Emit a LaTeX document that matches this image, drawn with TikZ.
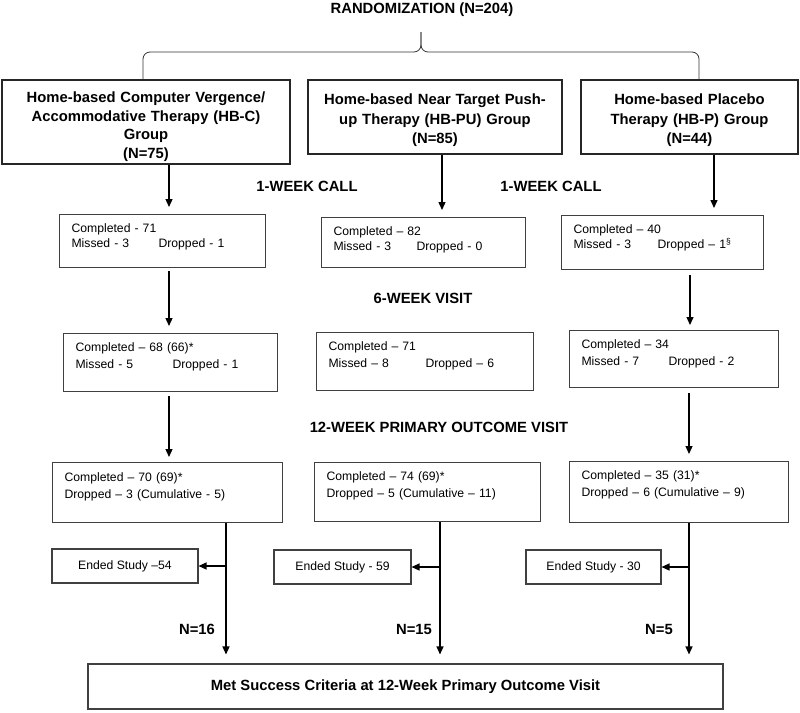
\documentclass[tikz,border=0pt]{standalone}
\usepackage{fontspec}
\setmainfont{Liberation Sans}
\usepackage{tikz}
\usetikzlibrary{positioning,arrows.meta}
\newcommand{\misdrop}[3]{\makebox[#1][l]{#2}#3}

\begin{document}
\begin{tikzpicture}[
  x=1pt,y=-1pt,
  grp/.style={draw=black!85,line width=1.5pt,align=center,inner sep=0pt,anchor=north,
    font=\fontsize{14.8}{19.5}\selectfont\bfseries},
  cell/.style={draw=black!75,line width=1.1pt,anchor=north west,align=left,
    inner xsep=12pt,inner ysep=0pt,text height=18pt,text depth=#1,
    font=\fontsize{12.2}{15}\selectfont},
  endbox/.style={draw=black!75,line width=1.1pt,align=center,inner sep=0pt,
    font=\fontsize{12.2}{15}\selectfont},
  head/.style={font=\fontsize{14.8}{18}\selectfont\bfseries},
  arr/.style={-{Triangle[length=8pt,width=7pt]},line width=1.3pt},
  brace/.style={rounded corners=7pt,line width=0.8pt,draw=black!80},
]
\useasboundingbox (0,0) rectangle (800,712);

\node[head] (title) at (422,10) {RANDOMIZATION (N=204)};

% group boxes
\node[grp,text width=288pt,text height=23pt,text depth=61pt,
  font=\fontsize{14.8}{18.5}\selectfont\bfseries] (hbc) at (146,79)
  {Home-based Computer Vergence/\\Accommodative Therapy (HB-C)\\Group\\(N=75)};
\node[grp,text width=254pt,text height=25pt,text depth=49pt] (hbpu) at (435,79)
  {Home-based Near Target Push-\\up Therapy (HB-PU) Group\\(N=85)};
\node[grp,text width=217pt,text height=25pt,text depth=49pt] (hbp) at (689.5,79)
  {Home-based Placebo\\Therapy (HB-P) Group\\(N=44)};

% 1-week call
\node[cell=35pt,text width=182pt] (c1) at (59,214)
  {Completed - 71\\\misdrop{87pt}{Missed - 3}{Dropped - 1}};
\node[cell=32pt,text width=180pt] (pu1) at (321,217)
  {Completed -- 82\\\misdrop{83pt}{Missed - 3}{Dropped - 0}};
\node[cell=36pt,text width=178pt] (p1) at (561,215)
  {Completed -- 40\\\misdrop{84pt}{Missed - 3}{Dropped -- 1\textsuperscript{§}}};

% 6-week visit
\node[cell=40pt,text width=190pt] (c2) at (63,333)
  {Completed -- 68 (66)*\\[2pt]\misdrop{97pt}{Missed - 5}{Dropped - 1}};
\node[cell=40pt,text width=193pt] (pu2) at (316,332)
  {Completed -- 71\\[2pt]\misdrop{97pt}{Missed -- 8}{Dropped -- 6}};
\node[cell=39pt,text width=185pt] (p2) at (569,330)
  {Completed -- 34\\[2pt]\misdrop{87pt}{Missed - 7}{Dropped - 2}};

% 12-week visit
\node[cell=41pt,text height=19pt,text width=206pt] (c3) at (52,462)
  {Completed -- 70 (69)*\\[2pt]Dropped -- 3 (Cumulative - 5)};
\node[cell=41pt,text width=202pt] (pu3) at (314,462)
  {Completed -- 74 (69)*\\[2pt]Dropped -- 5 (Cumulative -- 11)};
\node[cell=43pt,text width=195pt] (p3) at (569,461)
  {Completed -- 35 (31)*\\[2pt]Dropped -- 6 (Cumulative -- 9)};

\node[endbox,minimum width=146pt,minimum height=34pt] (ce) at (125,566) {Ended Study --54};
\node[endbox,minimum width=137pt,minimum height=34pt] (pue) at (342.5,567) {Ended Study - 59};
\node[endbox,minimum width=135pt,minimum height=34pt] (pe) at (593.5,567) {Ended Study - 30};

\node[endbox,minimum width=635pt,minimum height=45pt,font=\fontsize{14.8}{18}\selectfont\bfseries] (met) at (405.5,686.5)
  {Met Success Criteria at 12-Week Primary Outcome Visit};

% stage labels
\node[head] (wk1a) at (307,186) {1-WEEK CALL};
\node[head] (wk1b) at (551,186) {1-WEEK CALL};
\node[head] (wk6) at (423,298) {6-WEEK VISIT};
\node[head] (wk12) at (439,427) {12-WEEK PRIMARY OUTCOME VISIT};
\node[head] (n16) at (197,629) {N=16};
\node[head] (n15) at (414,629) {N=15};
\node[head] (n5) at (659,629) {N=5};

% brace
\coordinate (btip) at (421,32);
\coordinate (bmid) at (421,52);
\draw[brace] ([xshift=-3pt]hbc.north) |- (bmid) -- (btip);
\draw[brace] ([xshift=9.5pt]hbp.north) |- (bmid) -- (btip);

% columns
\coordinate (xc) at (169,0);
\coordinate (xpu) at (442,0);
\coordinate (xp) at (714,0);
\coordinate (xp2) at (690,0);
\coordinate (xc3) at (226,0);
\coordinate (xpu3) at (440,0);
\coordinate (xp3) at (689,0);

\draw[arr,shorten >=7pt] (hbc.south -| xc) -- (c1.north -| xc);
\draw[arr,shorten >=7pt] (hbpu.south -| xpu) -- (pu1.north -| xpu);
\draw[arr,shorten >=7pt] (hbp.south -| xp) -- (p1.north -| xp);
\draw[arr,shorten <=3pt,shorten >=7pt] (c1.south -| xc) -- (c2.north -| xc);
\draw[arr,shorten <=5pt,shorten >=5pt] (p1.south -| xp2) -- (p2.north -| xp2);
\draw[arr,shorten <=4pt,shorten >=5pt] (c2.south -| xc) -- (c3.north -| xc);
\draw[arr,shorten <=5pt,shorten >=7pt] (p2.south -| xp3) -- (p3.north -| xp3);

\draw[arr,shorten >=9pt] (c3.south -| xc3) -- (met.north -| xc3);
\draw[arr,shorten >=9pt] (pu3.south -| xpu3) -- (met.north -| xpu3);
\draw[arr,shorten >=9pt] (p3.south -| xp3) -- (met.north -| xp3);
\draw[arr] (ce.east -| xc3) -- (ce.east);
\draw[arr] (pue.east -| xpu3) -- (pue.east);
\draw[arr] (pe.east -| xp3) -- (pe.east);
\end{tikzpicture}
\end{document}
